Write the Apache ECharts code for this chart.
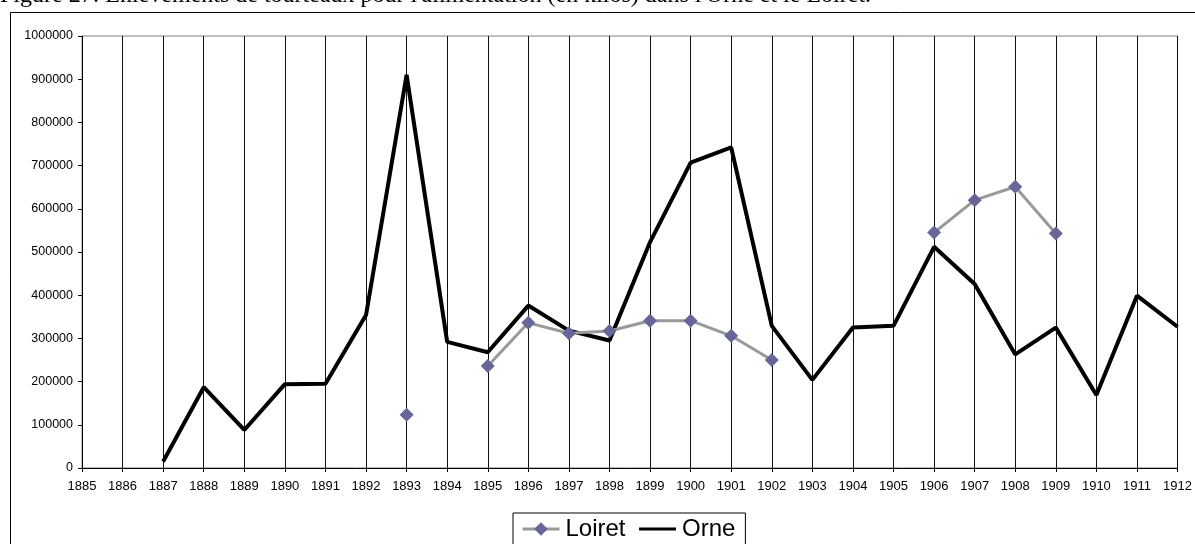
<!DOCTYPE html>
<html>
<head>
<meta charset="utf-8">
<script src="https://cdn.jsdelivr.net/npm/echarts@6/dist/echarts.min.js"></script>
<style>
  html, body { margin: 0; padding: 0; background: #fff; }
  #main { width: 1195px; height: 544px; }
</style>
</head>
<body>
<div id="main"></div>
<script>
// années (axe x)
var years = ['1885','1886','1887','1888','1889','1890','1891','1892','1893','1894',
  '1895','1896','1897','1898','1899','1900','1901','1902','1903','1904',
  '1905','1906','1907','1908','1909','1910','1911','1912'];

// Loiret (kilos) - null = pas de donnée
var loiret = [null, null, null, null, null, null, null, null, 123000, null,
  236000, 336000, 312000, 317000, 341000, 341000, 306000, 250000, null, null,
  null, 545000, 620000, 651000, 543000, null, null, null];

// Orne (kilos)
var orne = [null, null, 15000, 187000, 88000, 194000, 195000, 354000, 910000, 292000,
  268000, 376000, 318000, 295000, 523000, 707000, 742000, 329000, 204000, 325000,
  329000, 512000, 426000, 263000, 325000, 169000, 399000, 327000];

var titre = "Figure 27: Enlèvements de tourteaux pour l'alimentation (en kilos) dans l'Orne et le Loiret.";

var myChart = echarts.init(document.getElementById('main'));
myChart.setOption({
  animation: false,
  textStyle: { fontFamily: 'Arial, "Liberation Sans", sans-serif' },
  graphic: [
    {
      type: 'text', left: 0, top: -16,
      style: { text: titre, font: '24px "Liberation Serif", "Times New Roman", serif', fill: '#000' }
    },
    {
      type: 'rect', shape: { x: 10.5, y: 12.5, width: 1300, height: 700 },
      style: { fill: 'none', stroke: '#000', lineWidth: 1 }, z: -1
    }
  ],
  grid: {
    left: 82, right: 16, top: 36, bottom: 76,
    show: true, borderColor: '#808080', borderWidth: 1
  },
  legend: {
    left: 513, top: 513,
    borderColor: '#000', borderWidth: 1, borderRadius: 0,
    padding: [4, 10, 10, 8],
    itemWidth: 37, itemHeight: 17, itemGap: 12,
    textStyle: { fontSize: 24, color: '#000', padding: [0, 0, 0, 1] },
    data: [
      { name: 'Loiret', lineStyle: { width: 3 } },
      { name: 'Orne', itemStyle: { opacity: 0 }, lineStyle: { width: 3 } }
    ]
  },
  xAxis: {
    type: 'category',
    boundaryGap: false,
    data: years,
    axisLine: { lineStyle: { color: '#000', width: 1 } },
    axisTick: { show: true, length: 4, lineStyle: { color: '#000' } },
    axisLabel: { fontSize: 13, color: '#000', margin: 12, interval: 0 },
    splitLine: { show: true, lineStyle: { color: '#111', width: 1 } }
  },
  yAxis: {
    type: 'value',
    min: 0, max: 1000000, interval: 100000,
    axisLine: { show: true, lineStyle: { color: '#000', width: 1 } },
    axisTick: { show: true, length: 4, lineStyle: { color: '#000' } },
    axisLabel: { fontSize: 12.5, color: '#000', margin: 9, formatter: function (v) { return String(v); } },
    splitLine: { show: false }
  },
  series: [
    {
      name: 'Loiret', type: 'line', data: loiret,
      symbol: 'diamond', symbolSize: 14, showAllSymbol: true,
      lineStyle: { color: '#999999', width: 3 },
      itemStyle: { color: '#666699' },
      z: 3
    },
    {
      name: 'Orne', type: 'line', data: orne,
      symbol: 'none',
      lineStyle: { color: '#000', width: 4 },
      itemStyle: { color: '#000' },
      z: 2
    }
  ]
});
</script>
</body>
</html>
